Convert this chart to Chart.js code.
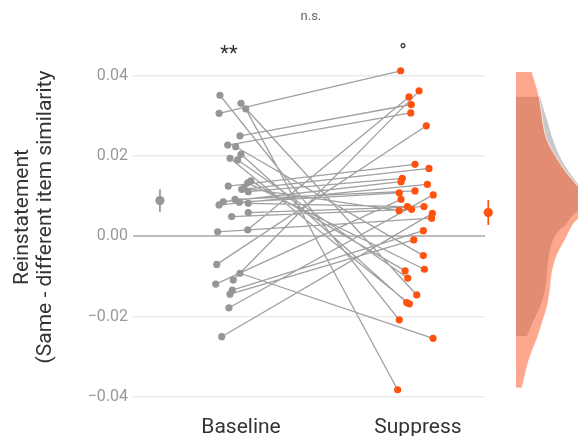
<!DOCTYPE html>
<html><head><meta charset="utf-8">
<script src="https://cdn.jsdelivr.net/npm/chart.js@4.4.1/dist/chart.umd.min.js"></script>
<style>
html,body{margin:0;padding:0;background:#fff;}
#wrap{position:relative;width:578px;height:436px;overflow:hidden;background:#fff;}
#main{position:absolute;left:0;top:0;}
#dens{position:absolute;left:500px;top:0;}
</style></head><body>
<div id="wrap"><canvas id="main" width="578" height="436"></canvas><canvas id="dens" width="78" height="436"></canvas></div>
<script>
// ---- data ----
const categories = ['Baseline', 'Suppress'];
const baselineValues = [0.0306, 0.0250, 0.0227, 0.0351, 0.0317, -0.0070, -0.0178, -0.0119, -0.0134, -0.0144, -0.0250, -0.0092, -0.0109, 0.0011, 0.0016, 0.0331, 0.0223, 0.0204, 0.0194, 0.0190, 0.0125, 0.0133, 0.0138, 0.0117, 0.0111, 0.0086, 0.0078, 0.0092, 0.0085, 0.0082, 0.0049, 0.0059, 0.0120];
const suppressValues = [0.0412, 0.0328, 0.0307, -0.0208, -0.0382, 0.0275, 0.0103, 0.0092, 0.0014, -0.0009, 0.0057, -0.0254, 0.0362, 0.0045, 0.0347, -0.0146, -0.0048, -0.0165, -0.0168, -0.0104, 0.0179, -0.0082, -0.0086, 0.0169, 0.0144, 0.0136, 0.0129, 0.0113, 0.0108, 0.0074, 0.0067, 0.0074, 0.0064];
const baselineJitter = [-0.124, -0.006, -0.075, -0.119, 0.027, -0.137, -0.068, -0.143, -0.049, -0.062, -0.109, -0.006, -0.044, -0.132, 0.038, 0.000, -0.030, 0.000, -0.062, -0.019, -0.072, 0.038, 0.056, 0.004, 0.041, -0.100, -0.124, -0.034, -0.010, 0.041, -0.053, 0.041, 0.017];
const suppressJitter = [-0.098, -0.038, -0.041, -0.106, -0.115, 0.047, 0.086, -0.096, 0.030, -0.024, 0.081, 0.085, 0.006, 0.077, -0.051, -0.007, 0.030, -0.064, -0.049, -0.058, -0.017, 0.036, -0.073, 0.062, -0.089, -0.096, 0.053, -0.017, -0.106, -0.060, -0.036, 0.034, -0.107];
const meanValues = [0.0089, 0.0059];
const ciLow = [0.0061, 0.0028];
const ciHigh = [0.0117, 0.0090];
const meanX = [0.542, 2.397];
const yTicks = [-0.04, -0.02, 0, 0.02, 0.04];
const sigLabels = ['**', '\u00B0'];
const sigX = [0.932, 1.915];
const sigY = [0.0451, 0.0456];
const overallLabel = 'n.s.';
const overallPos = [1.395, 0.0546];
const densBaseVals = [0.0348, 0.0314, 0.0282, 0.0240, 0.0198, 0.0157, 0.0133, 0.0103, 0.0078, 0.0053, 0.0033, 0.0011, -0.0009, -0.0047, -0.0091, -0.0134, -0.0176, -0.0208, -0.0248];
const densBaseWidth = [24, 28, 32, 37, 44, 54, 61, 68, 68, 57, 51, 42, 37, 33, 31, 29, 24, 18, 11];
const densSuppVals = [0.0409, 0.0348, 0.0282, 0.0240, 0.0198, 0.0157, 0.0133, 0.0103, 0.0065, 0.0033, -0.0009, -0.0047, -0.0091, -0.0134, -0.0176, -0.0208, -0.0248, -0.0300, -0.0345, -0.0377];
const densSuppWidth = [16, 23, 27, 31, 40, 51, 59, 68, 70, 58, 49, 41, 36, 34, 31, 27, 22, 14, 9, 6];

// ---- styles ----
const GRAY = 'rgb(150,150,150)';
const ORANGE = 'rgb(255,82,14)';
const Y_MIN = -0.041, Y_MAX = 0.0506;
const FONT = 'Roboto';

function build() {
  const pairLine = [];
  baselineValues.forEach((b, i) => {
    pairLine.push({x: 1 + baselineJitter[i], y: b});
    pairLine.push({x: 2 + suppressJitter[i], y: suppressValues[i]});
    pairLine.push({x: null, y: null});
  });
  const basePts = baselineValues.map((v, i) => ({x: 1 + baselineJitter[i], y: v}));
  const suppPts = suppressValues.map((v, i) => ({x: 2 + suppressJitter[i], y: v}));

  const sigPlugin = {
    id: 'sig',
    afterDatasetsDraw(chart) {
      const {ctx, scales: {x, y}} = chart;
      ctx.save();
      ctx.textAlign = 'center';
      ctx.textBaseline = 'middle';
      ctx.fillStyle = '#333';
      ctx.font = '20px ' + FONT;
      sigLabels.forEach((t, i) => ctx.fillText(t, x.getPixelForValue(sigX[i]), y.getPixelForValue(sigY[i])));
      ctx.font = '13px ' + FONT;
      ctx.fillStyle = '#666';
      ctx.fillText(overallLabel, x.getPixelForValue(overallPos[0]), y.getPixelForValue(overallPos[1]));
      ctx.restore();
    }
  };

  new Chart(document.getElementById('main'), {
    type: 'line',
    data: {
      datasets: [
        {data: pairLine, borderColor: 'rgb(160,160,160)', borderWidth: 1.3, pointRadius: 0, spanGaps: false, order: 5},
        {data: basePts, showLine: false, pointRadius: 3.6, pointBackgroundColor: GRAY, pointBorderWidth: 0, order: 1},
        {data: suppPts, showLine: false, pointRadius: 3.6, pointBackgroundColor: ORANGE, pointBorderWidth: 0, order: 1},
        {data: [{x: meanX[0], y: ciLow[0]}, {x: meanX[0], y: ciHigh[0]}], borderColor: GRAY, borderWidth: 1.7, pointRadius: 0, clip: false, order: 2},
        {data: [{x: meanX[0], y: meanValues[0]}], showLine: false, pointRadius: 4.6, pointBackgroundColor: GRAY, pointBorderWidth: 0, clip: false, order: 1},
        {data: [{x: meanX[1], y: ciLow[1]}, {x: meanX[1], y: ciHigh[1]}], borderColor: ORANGE, borderWidth: 1.7, pointRadius: 0, clip: false, order: 2},
        {data: [{x: meanX[1], y: meanValues[1]}], showLine: false, pointRadius: 4.6, pointBackgroundColor: ORANGE, pointBorderWidth: 0, clip: false, order: 1}
      ]
    },
    options: {
      responsive: false,
      animation: false,
      layout: {padding: {top: 33, right: 93, bottom: 0, left: 0}},
      plugins: {legend: {display: false}, tooltip: {enabled: false}},
      scales: {
        x: {
          type: 'linear', min: 0.3898, max: 2.3785,
          grid: {display: false}, border: {display: false},
          afterBuildTicks: s => { s.ticks = categories.map((c, i) => ({value: i + 1})); },
          afterFit: s => { s.height = 35; },
          ticks: {callback: v => categories[Math.round(v) - 1] || '', font: {family: FONT, size: 21}, color: '#333', padding: 6, maxRotation: 0, autoSkip: false}
        },
        y: {
          type: 'linear', min: Y_MIN, max: Y_MAX,
          afterBuildTicks: s => { s.ticks = yTicks.map(v => ({value: v})); },
          afterFit: s => { s.width = 133; },
          grid: {
            drawTicks: false,
            color: c => (c.tick && c.tick.value === 0) ? '#bdbdbd' : '#ebebeb',
            lineWidth: c => (c.tick && c.tick.value === 0) ? 2 : 1.5
          },
          border: {display: false},
          ticks: {callback: v => (v < 0 ? '\u2212' : '') + Math.abs(v).toFixed(2), font: {family: FONT, size: 16}, color: '#999', padding: 5},
          title: {display: true, text: ['Reinstatement', '(Same - different item similarity'], font: {family: FONT, size: 21, lineHeight: 1.1}, color: '#333', padding: {top: 11, bottom: 0}}
        }
      }
    },
    plugins: [sigPlugin]
  });

  new Chart(document.getElementById('dens'), {
    type: 'line',
    data: {
      datasets: [
        {data: densSuppVals.map((v, i) => ({x: densSuppWidth[i], y: v})), fill: 'origin', backgroundColor: 'rgba(250,80,30,0.5)', borderColor: 'rgba(255,255,255,0.7)', borderWidth: 1, pointRadius: 0, tension: 0.4, order: 1},
        {data: densBaseVals.map((v, i) => ({x: densBaseWidth[i], y: v})), fill: 'origin', backgroundColor: 'rgb(201,201,201)', borderWidth: 0, pointRadius: 0, tension: 0.4, order: 2}
      ]
    },
    options: {
      indexAxis: 'y',
      responsive: false,
      animation: false,
      layout: {padding: {top: 33, bottom: 35, left: 16, right: 0}},
      plugins: {legend: {display: false}, tooltip: {enabled: false}},
      scales: {
        x: {type: 'linear', min: 0, max: 62, display: false},
        y: {type: 'linear', min: Y_MIN, max: Y_MAX, display: false}
      }
    }
  });
}

if (document.fonts && document.fonts.load) {
  Promise.all([document.fonts.load('21px Roboto'), document.fonts.load('16px Roboto')]).then(build, build);
} else { build(); }
</script>
</body></html>
